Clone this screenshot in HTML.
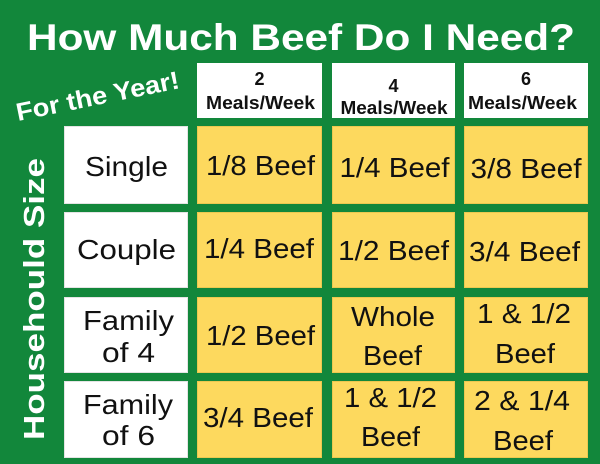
<!DOCTYPE html>
<html>
<head>
<meta charset="utf-8">
<style>
html,body{margin:0;padding:0;background:#12873b;}
svg{display:block;}
text{font-family:"Liberation Sans",sans-serif;}
</style>
</head>
<body>
<svg width="600" height="464" viewBox="0 0 600 464" xmlns="http://www.w3.org/2000/svg">
<rect x="0" y="0" width="600" height="464" fill="#12873b"/>

<!-- Title -->
<text x="27" y="50" font-size="37" font-weight="bold" fill="#ffffff" textLength="548" lengthAdjust="spacingAndGlyphs">How Much Beef Do I Need?</text>

<!-- For the Year! -->
<text x="18" y="121" font-size="25" font-weight="bold" fill="#ffffff" textLength="166" lengthAdjust="spacingAndGlyphs" transform="rotate(-11.5 18 121)">For the Year!</text>

<!-- Househould Size -->
<text transform="translate(44,440) rotate(-90)" font-size="29" font-weight="bold" fill="#ffffff" textLength="282" lengthAdjust="spacingAndGlyphs">Househould Size</text>

<!-- Header boxes -->
<rect x="197" y="63" width="125" height="55" fill="#ffffff"/>
<rect x="332" y="63" width="123" height="55" fill="#ffffff"/>
<rect x="464" y="63" width="124" height="55" fill="#ffffff"/>

<g font-weight="bold" font-size="18" fill="#111" text-anchor="middle">
<text x="259.5" y="85">2</text>
<text x="260.5" y="109" textLength="109" lengthAdjust="spacingAndGlyphs">Meals/Week</text>
<text x="393.5" y="92">4</text>
<text x="394" y="114" textLength="107" lengthAdjust="spacingAndGlyphs">Meals/Week</text>
<text x="526" y="85">6</text>
<text x="522.5" y="109" textLength="109" lengthAdjust="spacingAndGlyphs">Meals/Week</text>
</g>

<!-- Row label boxes -->
<g fill="#ffffff" stroke="#e4e4e4" stroke-width="1">
<rect x="64.5" y="126.5" width="123" height="77"/>
<rect x="64.5" y="212.5" width="123" height="75"/>
<rect x="64.5" y="297.5" width="123" height="75"/>
<rect x="64.5" y="381.5" width="123" height="76"/>
</g>

<!-- Yellow cells -->
<g fill="#fdd95e" stroke="#ecc850" stroke-width="1">
<rect x="197.5" y="126.5" width="124" height="77"/>
<rect x="332.5" y="126.5" width="122" height="77"/>
<rect x="464.5" y="126.5" width="123" height="77"/>
<rect x="197.5" y="212.5" width="124" height="75"/>
<rect x="332.5" y="212.5" width="122" height="75"/>
<rect x="464.5" y="212.5" width="123" height="75"/>
<rect x="197.5" y="297.5" width="124" height="75"/>
<rect x="332.5" y="297.5" width="122" height="75"/>
<rect x="464.5" y="297.5" width="123" height="75"/>
<rect x="197.5" y="381.5" width="124" height="76"/>
<rect x="332.5" y="381.5" width="122" height="76"/>
<rect x="464.5" y="381.5" width="123" height="76"/>
</g>

<!-- Row labels -->
<g font-size="28" fill="#111" text-anchor="middle">
<text x="126.5" y="176" textLength="83" lengthAdjust="spacingAndGlyphs">Single</text>
<text x="126.5" y="259" textLength="99" lengthAdjust="spacingAndGlyphs">Couple</text>
<text x="128.5" y="330" textLength="91" lengthAdjust="spacingAndGlyphs">Family</text>
<text x="128.5" y="362" textLength="53" lengthAdjust="spacingAndGlyphs">of 4</text>
<text x="128" y="414" textLength="90" lengthAdjust="spacingAndGlyphs">Family</text>
<text x="128.5" y="445" textLength="53" lengthAdjust="spacingAndGlyphs">of 6</text>
</g>

<!-- Cell values -->
<g font-size="28" fill="#111" text-anchor="middle">
<text x="260.5" y="175" textLength="109" lengthAdjust="spacingAndGlyphs">1/8 Beef</text>
<text x="394.5" y="177" textLength="110" lengthAdjust="spacingAndGlyphs">1/4 Beef</text>
<text x="526" y="178" textLength="111" lengthAdjust="spacingAndGlyphs">3/8 Beef</text>

<text x="259" y="258" textLength="110" lengthAdjust="spacingAndGlyphs">1/4 Beef</text>
<text x="393.5" y="260" textLength="111" lengthAdjust="spacingAndGlyphs">1/2 Beef</text>
<text x="524.5" y="261" textLength="111" lengthAdjust="spacingAndGlyphs">3/4 Beef</text>

<text x="260.5" y="345" textLength="109" lengthAdjust="spacingAndGlyphs">1/2 Beef</text>
<text x="393" y="326" textLength="84" lengthAdjust="spacingAndGlyphs">Whole</text>
<text x="392.5" y="365" textLength="59" lengthAdjust="spacingAndGlyphs">Beef</text>
<text x="524" y="323" textLength="94" lengthAdjust="spacingAndGlyphs">1 &amp; 1/2</text>
<text x="525" y="363" textLength="60" lengthAdjust="spacingAndGlyphs">Beef</text>

<text x="258" y="427" textLength="110" lengthAdjust="spacingAndGlyphs">3/4 Beef</text>
<text x="390.5" y="407" textLength="93" lengthAdjust="spacingAndGlyphs">1 &amp; 1/2</text>
<text x="390.5" y="446" textLength="59" lengthAdjust="spacingAndGlyphs">Beef</text>
<text x="522" y="410" textLength="96" lengthAdjust="spacingAndGlyphs">2 &amp; 1/4</text>
<text x="523" y="450" textLength="60" lengthAdjust="spacingAndGlyphs">Beef</text>
</g>
</svg>
</body>
</html>
